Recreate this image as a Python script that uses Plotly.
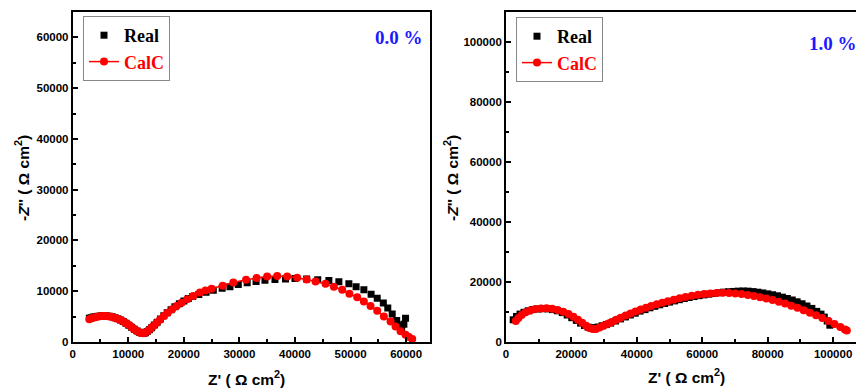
import plotly.graph_objects as go

# ---- Left panel (0.0 %) ----
real0_x = [3000, 3300, 3700, 4100, 4600, 5100, 5600, 6100, 6600, 7100, 7600, 8100, 8600, 9100, 9600,
           10100, 10600, 11100, 11600, 12000, 12400, 12800, 13100, 13400, 13800, 14200, 14700, 15200,
           15800, 16400, 17000, 17700, 18400, 19200, 20000, 20800, 21600, 22700, 24000, 25300, 26900,
           28300, 29800, 31400, 33000, 34600, 36400, 38300, 40000, 42100, 44100, 46100, 47900, 49700,
           51000, 52400, 53700, 54800, 55900, 56700, 57500, 58300, 58800, 59200, 59600, 59900]
real0_y = [4700, 4800, 4900, 4980, 5050, 5100, 5120, 5100, 5050, 4950, 4800, 4600, 4350, 4050, 3700,
           3300, 2900, 2500, 2150, 1900, 1750, 1700, 1800, 2050, 2400, 2800, 3350, 3900,
           4550, 5150, 5750, 6350, 6950, 7550, 8100, 8550, 8950, 9350, 9800, 10200, 10600,
           10900, 11350, 11650, 11900, 12150, 12300, 12400, 12500, 12400, 12250, 12100, 11850, 11450,
           10900, 10300, 9400, 8600, 7700, 6700, 5500, 4250, 3200, 2600, 3500, 4700]

calc0_x = [3000, 3400, 3900, 4400, 4900, 5400, 5900, 6400, 6900, 7400, 7900, 8400, 8900, 9400, 9900,
           10400, 10900, 11400, 11900, 12300, 12700, 13100, 13500, 14000, 14500, 15100, 15700, 16400,
           17100, 17900, 18700, 19600, 20600, 21700, 22900, 23900, 25000, 27000, 28900, 31200, 33100,
           35000, 36800, 38600, 40400, 42100, 43700, 45500, 47000, 48500, 49800, 51200, 52400, 53600,
           54800, 56000, 57200, 58100, 59000, 59900, 60500, 61100]
calc0_y = [4500, 4700, 4850, 4980, 5060, 5100, 5100, 5060, 4980, 4850, 4680, 4450, 4180, 3850, 3480,
           3080, 2680, 2280, 1950, 1780, 1720, 1850, 2150, 2600, 3150, 3750, 4400, 5100,
           5750, 6450, 7100, 7750, 8400, 9050, 9750, 10150, 10500, 11100, 11700, 12250, 12600,
           12900, 13000, 12900, 12650, 12300, 11900, 11450, 10900, 10300, 9500, 8800, 8000, 7100,
           6150, 5000, 4050, 3070, 2100, 1430, 1000, 600]

# ---- Right panel (1.0 %) ----
real1_x = [2200, 3200, 4300, 5500, 6800, 8200, 9700, 11200, 12700, 14200, 15700, 17200, 18700, 20100,
           21500, 22800, 24000, 25100, 26100, 27100, 28200, 29400, 30700, 32000, 33500, 35000, 36500,
           38000, 39500, 41000, 42500, 44000, 45500, 47000, 48500, 50000, 51500, 53000, 54500, 56000,
           57500, 59000, 60500, 62000, 63500, 65000, 66500, 68000, 69500, 71000, 72500, 74000, 75500,
           77000, 78500, 80000, 81500, 83000, 84500, 86000, 87500, 89000, 90500, 92000, 93500, 95000,
           96300, 97300, 98200, 99000]
real1_y = [7400, 8500, 9300, 9900, 10400, 10800, 11000, 11100, 11050, 10800, 10400, 9800, 9000, 8100,
           7200, 6300, 5500, 4950, 4700, 4750, 5000, 5400, 5800, 6300, 7000, 7700, 8350,
           9000, 9600, 10300, 10800, 11400, 11900, 12400, 12850, 13300, 13700, 14100, 14500, 14850,
           15150, 15450, 15700, 15950, 16150, 16400, 16600, 16750, 16850, 16950, 17000, 16950, 16800,
           16600, 16350, 16050, 15750, 15400, 14950, 14500, 14000, 13400, 12750, 12000, 11200, 10200,
           9300, 8300, 7000, 5600]

calc1_x = [3000, 3800, 4800, 6000, 7400, 9000, 10700, 12400, 14100, 15800, 17500, 19100, 20600, 22000,
           23300, 24500, 25500, 26500, 27500, 28600, 29800, 31000, 32300, 33700, 35100, 36600, 38100,
           39600, 41200, 42800, 44400, 46100, 47800, 49500, 51300, 53100, 54900, 56800, 58700, 60600,
           62500, 64400, 66300, 68200, 70100, 72000, 73900, 75800, 77700, 79600, 81500, 83400, 85300,
           87200, 89100, 91000, 92900, 94800, 96700, 98600, 100400, 102200, 103600, 104200]
calc1_y = [7000, 8000, 9000, 9900, 10500, 11000, 11200, 11250, 11050, 10700, 10100, 9300, 8400, 7400,
           6400, 5400, 4700, 4300, 4350, 4800, 5400, 6000, 6700, 7400, 8100, 8800, 9500,
           10150, 10800, 11400, 12000, 12600, 13100, 13600, 14100, 14600, 15000, 15400, 15750, 16000,
           16200, 16350, 16400, 16350, 16200, 16000, 15700, 15350, 14950, 14500, 14000, 13400, 12800,
           12100, 11400, 10600, 9750, 8900, 8000, 7000, 6000, 5000, 4200, 3800]

W, H = 856, 390
L1, R1 = 72.7, 430.0
L2, R2 = 506.0, 856.0
TOP, BOT = 12.0, 342.0

def fx(px):
    return px / W

def fy(py):
    return (H - py) / H

tickfont = dict(family="Liberation Sans, Arial, sans-serif", size=11.5, color="black", weight="bold")
legfont = dict(family="Liberation Serif, Times New Roman, serif", size=18, color="black", weight="bold")

fig = go.Figure()

fig.add_trace(go.Scatter(x=real0_x, y=real0_y, mode="markers", name="Real",
                         marker=dict(symbol="square", size=7, color="black"),
                         xaxis="x", yaxis="y", legend="legend"))
fig.add_trace(go.Scatter(x=calc0_x, y=calc0_y, mode="lines+markers",
                         name='<span style="color:#ff0000">CalC</span>',
                         marker=dict(symbol="circle", size=8, color="#ff0000"),
                         line=dict(color="#ff0000", width=1.5),
                         xaxis="x", yaxis="y", legend="legend"))
fig.add_trace(go.Scatter(x=real1_x, y=real1_y, mode="markers", name="Real",
                         marker=dict(symbol="square", size=7, color="black"),
                         xaxis="x2", yaxis="y2", legend="legend2"))
fig.add_trace(go.Scatter(x=calc1_x, y=calc1_y, mode="lines+markers",
                         name='<span style="color:#ff0000">CalC</span>',
                         marker=dict(symbol="circle", size=8, color="#ff0000"),
                         line=dict(color="#ff0000", width=1.5),
                         xaxis="x2", yaxis="y2", legend="legend2"))

axis_common = dict(showgrid=False, zeroline=False, showline=True, linecolor="black", linewidth=1.8,
                   ticks="inside", ticklen=5, tickwidth=1.5, tickcolor="black",
                   tickfont=tickfont, automargin=False, tickformat="d")

def minor(d):
    return dict(dtick=d, ticks="inside", ticklen=3, tickwidth=1.5, tickcolor="black")

fig.update_layout(
    width=W, height=H,
    margin=dict(l=0, r=0, t=0, b=0),
    paper_bgcolor="white", plot_bgcolor="white",
    xaxis=dict(domain=[fx(L1), fx(R1)], range=[0, 64300], dtick=10000, anchor="y", mirror=True,
               minor=minor(5000), **axis_common),
    yaxis=dict(domain=[fy(BOT), fy(TOP)], range=[0, 65000], dtick=10000, anchor="x", mirror=True,
               minor=minor(5000), **axis_common),
    xaxis2=dict(domain=[fx(L2), fx(R2)], range=[0, 107000], dtick=20000, anchor="y2", mirror=True,
                minor=minor(10000), **axis_common),
    yaxis2=dict(domain=[fy(BOT), fy(TOP)], range=[0, 110000], dtick=20000, anchor="x2", mirror=False,
                minor=minor(10000), **axis_common),
    legend=dict(x=fx(83), y=fy(16), xanchor="left", yanchor="top", bgcolor="white",
                bordercolor="#888888", borderwidth=1, font=legfont, itemwidth=30,
                tracegroupgap=0, traceorder="normal"),
    legend2=dict(x=fx(516), y=fy(17), xanchor="left", yanchor="top", bgcolor="white",
                 bordercolor="#888888", borderwidth=1, font=legfont, itemwidth=30,
                 tracegroupgap=0, traceorder="normal"),
    showlegend=True,
)

titlefont = dict(family="Liberation Sans, Arial, sans-serif", size=15.5, color="black", weight="bold")
pctfont = dict(family="Liberation Serif, Times New Roman, serif", size=19, color="#1a1aff", weight="bold")

ann = [
    dict(text="Z' ( \u03a9 cm<sup>2</sup>)", x=fx(246), y=fy(378), xref="paper", yref="paper",
         showarrow=False, font=titlefont, xanchor="center", yanchor="middle"),
    dict(text="Z' ( \u03a9 cm<sup>2</sup>)", x=fx(686), y=fy(376), xref="paper", yref="paper",
         showarrow=False, font=titlefont, xanchor="center", yanchor="middle"),
    dict(text="-<i>Z</i>'' ( \u03a9 cm<sup>2</sup>)", x=fx(22), y=fy(178), xref="paper", yref="paper",
         showarrow=False, font=titlefont, textangle=-90, xanchor="center", yanchor="middle"),
    dict(text="-<i>Z</i>'' ( \u03a9 cm<sup>2</sup>)", x=fx(451), y=fy(178), xref="paper", yref="paper",
         showarrow=False, font=titlefont, textangle=-90, xanchor="center", yanchor="middle"),
    dict(text="0.0 %", x=fx(399), y=fy(38), xref="paper", yref="paper",
         showarrow=False, font=pctfont, xanchor="center", yanchor="middle"),
    dict(text="1.0 %", x=fx(807), y=fy(43), xref="paper", yref="paper",
         showarrow=False, font=pctfont, xanchor="left", yanchor="middle"),
]
fig.update_layout(annotations=ann)

fig.write_html("out.html")
